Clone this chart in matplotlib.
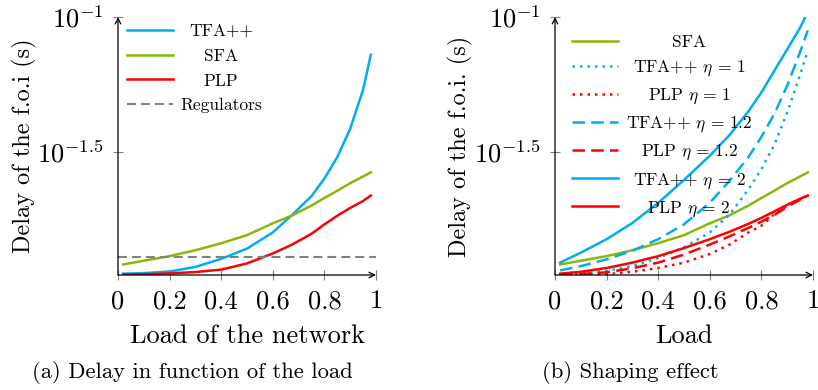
import matplotlib
matplotlib.use("Agg")
import matplotlib.pyplot as plt
import numpy as np
from matplotlib.ticker import NullLocator

plt.rcParams['font.family'] = 'serif'
plt.rcParams['font.serif'] = ['cmr10', 'DejaVu Serif']
plt.rcParams['mathtext.fontset'] = 'cm'
plt.rcParams['axes.unicode_minus'] = False

# load of the network (x) and log10 of the delay of the f.o.i. in seconds
load = [0.02, 0.1, 0.2, 0.3, 0.4, 0.5, 0.6, 0.675, 0.75, 0.8, 0.85, 0.9, 0.95, 0.98]

# (a) delay in function of the load
tfa_a = [-1.953, -1.951, -1.945, -1.928, -1.898, -1.860, -1.800, -1.735, -1.665, -1.600, -1.520, -1.415, -1.270, -1.140]
sfa = [-1.919, -1.905, -1.888, -1.866, -1.840, -1.810, -1.766, -1.737, -1.700, -1.672, -1.645, -1.617, -1.592, -1.577]
plp_a = [-1.956, -1.955, -1.952, -1.947, -1.938, -1.915, -1.878, -1.845, -1.805, -1.770, -1.738, -1.709, -1.683, -1.663]
regulators = -1.890

# (b) shaping effect
tfa_eta1 = [-1.956, -1.953, -1.943, -1.925, -1.895, -1.855, -1.800, -1.735, -1.640, -1.565, -1.475, -1.355, -1.215, -1.125]
plp_eta1 = [-1.957, -1.957, -1.955, -1.946, -1.932, -1.912, -1.880, -1.846, -1.800, -1.775, -1.732, -1.700, -1.676, -1.663]
tfa_eta12 = [-1.941, -1.925, -1.900, -1.868, -1.825, -1.770, -1.690, -1.610, -1.520, -1.445, -1.360, -1.255, -1.130, -1.050]
plp_eta12 = [-1.956, -1.954, -1.948, -1.933, -1.912, -1.882, -1.845, -1.815, -1.783, -1.760, -1.735, -1.705, -1.678, -1.663]
tfa_eta2 = [-1.912, -1.875, -1.825, -1.765, -1.690, -1.605, -1.515, -1.440, -1.350, -1.280, -1.200, -1.120, -1.040, -0.980]
plp_eta2 = [-1.953, -1.946, -1.932, -1.912, -1.888, -1.858, -1.825, -1.798, -1.768, -1.746, -1.722, -1.697, -1.675, -1.663]

x_ticks = [0, 0.2, 0.4, 0.6, 0.8, 1]
x_ticklabels = ['0', '0.2', '0.4', '0.6', '0.8', '1']

BLUE = '#00AEEF'
GREEN = '#8DB60C'
RED = '#FF0000'
GREY = '#808080'
LW = 1.8


def d(v):
    return np.power(10.0, v)


def style_axis(ax, xlabel, ylabel):
    ax.set_yscale('log')
    ax.set_xlim(0, 1)
    ax.set_ylim(d(-1.958), d(-1))
    ax.yaxis.set_minor_locator(NullLocator())
    ax.set_yticks([d(-1.5), d(-1)])
    ax.set_yticklabels([r'$10^{-1.5}$', r'$10^{-1}$'], fontsize=19)
    ax.set_xticks(x_ticks)
    ax.set_xticklabels(x_ticklabels, fontsize=19)
    ax.tick_params(direction='inout', length=7, color=GREY, width=0.8, pad=7)
    for s in ax.spines.values():
        s.set_visible(False)
    arrow = dict(arrowstyle='->', lw=0.9, color='black', shrinkA=0, shrinkB=0)
    ax.annotate('', xy=(1, 0), xytext=(0, 0), xycoords='axes fraction', arrowprops=arrow)
    ax.annotate('', xy=(0, 1), xytext=(0, 0), xycoords='axes fraction', arrowprops=arrow)
    ax.set_xlabel(xlabel, fontsize=19)
    ax.xaxis.set_label_coords(0.5, -0.19)
    ax.set_ylabel(ylabel, fontsize=17.5)


def center_legend_text(leg, fig):
    # pgfplots centres legend entries, matplotlib left-aligns them
    fig.canvas.draw()
    r = fig.canvas.get_renderer()
    rows = leg._legend_handle_box.get_children()[0].get_children()
    widths = [t.get_window_extent(r).width for t in leg.get_texts()]
    wmax = max(widths)
    for row, w in zip(rows, widths):
        row.sep += (wmax - w) / 2 * 72 / fig.dpi


fig = plt.figure(figsize=(8.18, 3.9), dpi=100)
ax1 = fig.add_axes([118 / 818, 115 / 390, 258 / 818, 258 / 390])
ax2 = fig.add_axes([555 / 818, 115 / 390, 258 / 818, 258 / 390])

# (a)
ax1.plot(load, d(np.array(tfa_a)), color=BLUE, lw=LW, label='TFA++')
ax1.plot(load, d(np.array(sfa)), color=GREEN, lw=LW, label='SFA')
ax1.plot(load, d(np.array(plp_a)), color=RED, lw=LW, label='PLP')
ax1.axhline(d(regulators), color=GREY, lw=1.5, dashes=(4.3, 2.4), label='Regulators')
style_axis(ax1, 'Load of the network', 'Delay of the f.o.i (s)')
ax1.yaxis.set_label_coords(-0.314, 0.5)
leg1 = ax1.legend(loc='upper left', bbox_to_anchor=(0.035, 0.975), frameon=False,
                  fontsize=12.5, borderpad=0, borderaxespad=0, handlelength=2.65,
                  handletextpad=0.4, labelspacing=0.55)

# (b)
ax2.plot(load, d(np.array(sfa)), color=GREEN, lw=LW, label='SFA')
ax2.plot(load, d(np.array(tfa_eta1)), color=BLUE, lw=LW, dashes=(1, 2), label=r'TFA++ $\eta$ = 1')
ax2.plot(load, d(np.array(plp_eta1)), color=RED, lw=LW, dashes=(1, 2), label=r'PLP $\eta$ = 1')
ax2.plot(load, d(np.array(tfa_eta12)), color=BLUE, lw=LW, dashes=(5, 2.5), label=r'TFA++ $\eta$ = 1.2')
ax2.plot(load, d(np.array(plp_eta12)), color=RED, lw=LW, dashes=(5, 2.5), label=r'PLP $\eta$ = 1.2')
ax2.plot(load, d(np.array(tfa_eta2)), color=BLUE, lw=LW, label=r'TFA++ $\eta$ = 2')
ax2.plot(load, d(np.array(plp_eta2)), color=RED, lw=LW, label=r'PLP $\eta$ = 2')
style_axis(ax2, 'Load', 'Delay of the f.o.i. (s)')
ax2.yaxis.set_label_coords(-0.318, 0.5)
leg2 = ax2.legend(loc='upper left', bbox_to_anchor=(0.066, 0.932), frameon=False,
                  fontsize=12.5, borderpad=0, borderaxespad=0, handlelength=2.65,
                  handletextpad=0.46, labelspacing=0.5)

fig.text(192 / 818, 1 - 373 / 390, '(a) Delay in function of the load', fontsize=16.3,
         ha='center', va='center')
fig.text(630 / 818, 1 - 373 / 390, '(b) Shaping effect', fontsize=16.3,
         ha='center', va='center')

center_legend_text(leg1, fig)
center_legend_text(leg2, fig)

fig.savefig('out.png', dpi=100)
